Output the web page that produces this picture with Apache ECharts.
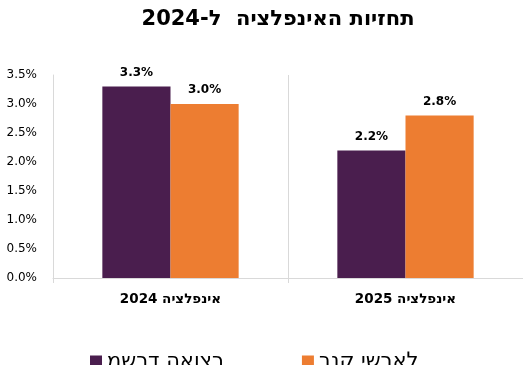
<!DOCTYPE html>
<html>
<head>
<meta charset="utf-8">
<script src="https://cdn.jsdelivr.net/npm/echarts@6/dist/echarts.min.js"></script>
<style>
html,body{margin:0;padding:0;background:#fff;}
#c{width:523px;height:365px;}
</style>
</head>
<body>
<div id="c" dir="rtl"></div>
<script>
const titleText = 'תחזיות האינפלציה  ל-2024';
const categories = ['אינפלציה 2024', 'אינפלציה 2025'];
const seriesNames = ['משרד האוצר', 'בנק ישראל'];
const treasury = [3.3, 2.2];
const bankOfIsrael = [3.0, 2.8];
const yMin = 0, yMax = 3.5, yInterval = 0.5;

const font = 'DejaVu Sans';
const chart = echarts.init(document.getElementById('c'), null, {renderer: 'canvas'});
chart.setOption({
  animation: false,
  textStyle: {fontFamily: font},
  title: {
    text: titleText,
    left: 273, top: 4,
    textAlign: 'center',
    textStyle: {fontFamily: font, fontSize: 21, fontWeight: 'bold', color: '#000'}
  },
  legend: {
    left: 85, top: 346,
    itemWidth: 12, itemHeight: 12, itemGap: 78, itemTextGap: 5,
    icon: 'rect',
    textStyle: {fontFamily: font, fontSize: 21, color: '#000'},
    formatter: name => '\u202D' + name + '\u202C',
    data: seriesNames
  },
  grid: {left: 53, right: -2, top: 75, bottom: 87},
  xAxis: {
    type: 'category',
    data: categories,
    axisLine: {lineStyle: {color: '#d9d9d9'}},
    axisTick: {show: true, length: 5, lineStyle: {color: '#d9d9d9'}},
    splitLine: {show: true, lineStyle: {color: '#d9d9d9'}},
    axisLabel: {fontFamily: font, fontSize: 13.5, fontWeight: 'bold', color: '#000', margin: 14}
  },
  yAxis: {
    type: 'value',
    min: yMin, max: yMax, interval: yInterval,
    axisLine: {show: true, lineStyle: {color: '#d9d9d9'}},
    axisTick: {show: false},
    splitLine: {show: false},
    axisLabel: {fontFamily: font, fontSize: 12, color: '#000', margin: 16,
      formatter: v => v.toFixed(1) + '%'}
  },
  series: [
    {name: seriesNames[0], type: 'bar', data: treasury, barWidth: '29%', barGap: '0%',
     itemStyle: {color: '#4a1e4e'},
     label: {show: true, position: 'top', distance: 8, fontFamily: font, fontSize: 12, fontWeight: 'bold', color: '#000',
       formatter: p => p.value.toFixed(1) + '%'}},
    {name: seriesNames[1], type: 'bar', data: bankOfIsrael, barWidth: '29%', barGap: '0%',
     itemStyle: {color: '#ed7d31'},
     label: {show: true, position: 'top', distance: 8, fontFamily: font, fontSize: 12, fontWeight: 'bold', color: '#000',
       formatter: p => p.value.toFixed(1) + '%'}}
  ]
});
</script>
</body>
</html>
